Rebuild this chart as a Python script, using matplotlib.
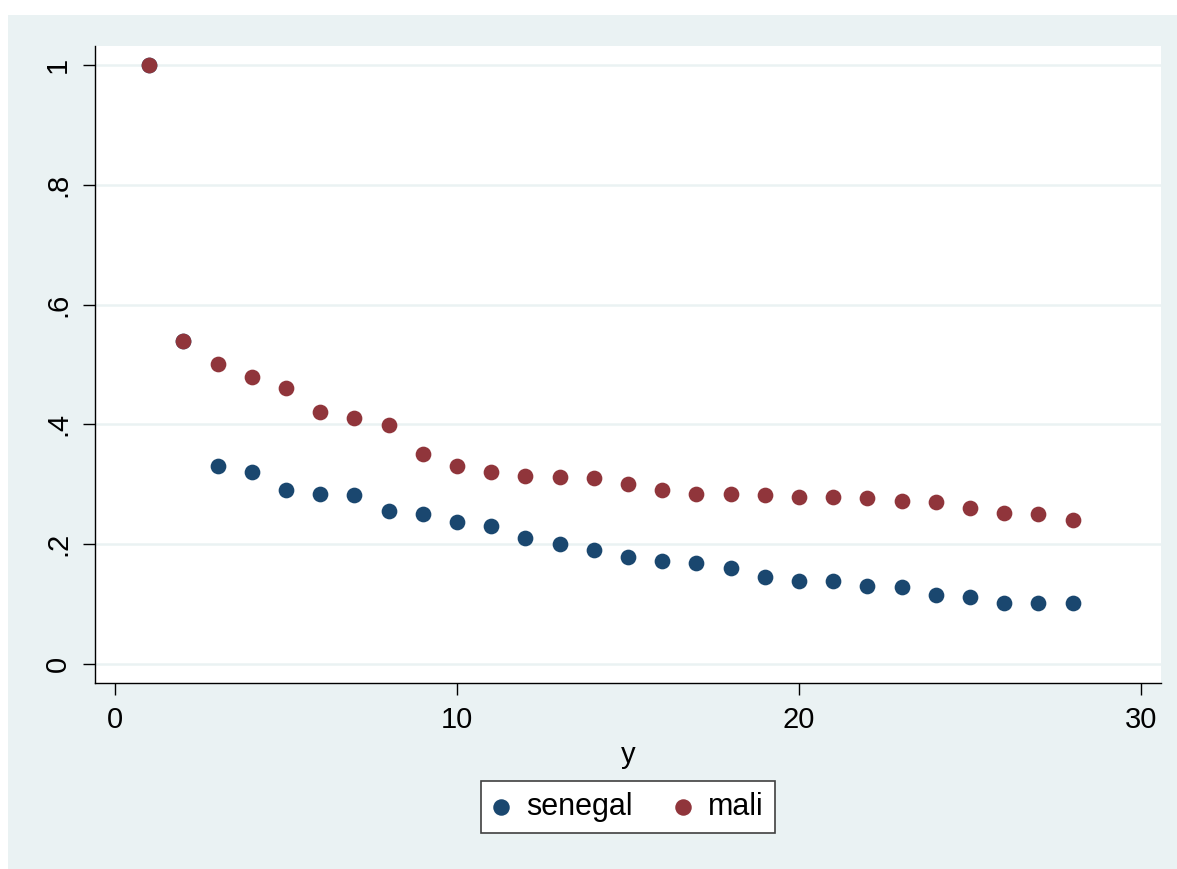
import matplotlib
matplotlib.use("Agg")
import matplotlib.pyplot as plt
from matplotlib.patches import Rectangle

plt.rcParams['font.family'] = ['Liberation Sans', 'DejaVu Sans']

# data
years = list(range(1, 29))
senegal = [1.0, 0.54, 0.331, 0.321, 0.290, 0.284, 0.282, 0.255, 0.250, 0.237,
           0.230, 0.210, 0.200, 0.190, 0.179, 0.172, 0.169, 0.160, 0.145, 0.139,
           0.139, 0.130, 0.129, 0.115, 0.112, 0.102, 0.102, 0.102]
mali = [1.0, 0.54, 0.501, 0.479, 0.461, 0.421, 0.411, 0.399, 0.351, 0.331,
        0.321, 0.314, 0.312, 0.311, 0.300, 0.290, 0.284, 0.284, 0.282, 0.279,
        0.279, 0.277, 0.272, 0.270, 0.260, 0.252, 0.250, 0.240]
yticks = [0, 0.2, 0.4, 0.6, 0.8, 1.0]
ytick_labels = ["0", ".2", ".4", ".6", ".8", "1"]
xticks = [0, 10, 20, 30]

W, H = 1177, 869
fig = plt.figure(figsize=(W / 100, H / 100), dpi=100, facecolor='white')
bg = '#EAF2F3'
fig.patches.append(Rectangle((8 / W, 0), 1 - 8 / W, (H - 15) / H,
                             transform=fig.transFigure, facecolor=bg,
                             edgecolor='none', zorder=-10))

ax = fig.add_axes([95 / W, (H - 683) / H, (1161 - 95) / W, (683 - 46) / H])
ax.set_zorder(1)
ax.set_facecolor('white')

ax.scatter(years, senegal, s=128, color='#1A476F', label='senegal', zorder=3, linewidths=0)
ax.scatter(years, mali, s=128, color='#90353B', label='mali', zorder=3, linewidths=0)

ax.set_xlim(-0.585, 30.585)
ax.set_ylim(-0.0317, 1.0317)
ax.set_xticks(xticks)
ax.set_yticks(yticks)
ax.set_yticklabels(ytick_labels, rotation=90, va='center')
ax.tick_params(axis='both', direction='out', length=8.6, width=1,
               labelsize=21, pad=8, color='black')

ax.grid(axis='y', color=bg, linewidth=1.8, zorder=1)
ax.grid(axis='x', visible=False)
for s in ['top', 'right']:
    ax.spines[s].set_visible(False)
for s in ['left', 'bottom']:
    ax.spines[s].set_linewidth(1.0)

ax.set_xlabel('y', fontsize=21, labelpad=5)

leg = fig.legend(loc='center', bbox_to_anchor=(628 / W, (H - 807) / H),
                 ncol=2, fontsize=22, frameon=True, fancybox=False,
                 handletextpad=0.52, columnspacing=1.35, borderpad=0.35,
                 handlelength=0.6, markerscale=1.05)
leg.get_frame().set_edgecolor('#404040')
leg.get_frame().set_linewidth(1.2)
leg.get_frame().set_facecolor('white')
leg.get_frame().set_alpha(1)

fig.savefig('out.png', dpi=100, facecolor=fig.get_facecolor())
